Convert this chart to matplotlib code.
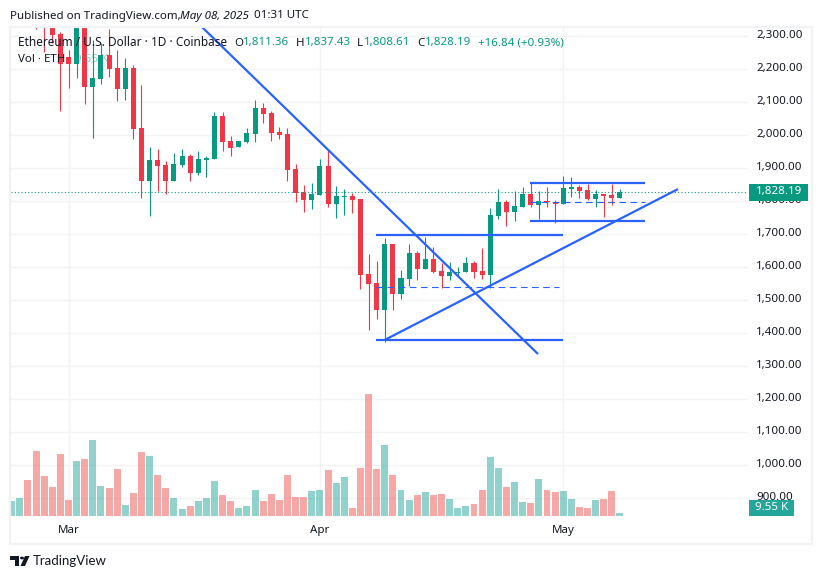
import numpy as np
import matplotlib
matplotlib.use("Agg")
import matplotlib.pyplot as plt
from matplotlib.patches import Rectangle, Polygon, Circle
from matplotlib.transforms import ScaledTranslation

plt.rcParams['font.family'] = ['Noto Sans', 'DejaVu Sans']

W, H = 822, 579

# days counted from 1 March 2025
days = np.arange(-7, 69)
opens = [2400, 2420, 2480, 2420, 2360, 2345, 2307, 2237, 2216, 2340, 2146, 2171, 2243, 2204, 2140, 2204,
         2022, 1862, 1925, 1910, 1862, 1910, 1937, 1886, 1925, 1928, 2058, 1983, 1965, 1980, 2004, 2083,
         2068, 2010, 2004, 1898, 1828, 1804, 1819, 1907, 1792, 1813, 1816, 1807, 1580, 1552, 1471, 1671,
         1519, 1565, 1643, 1595, 1625, 1589, 1574, 1584, 1586, 1613, 1589, 1577, 1755, 1798, 1768, 1783,
         1822, 1789, 1801, 1798, 1792, 1837, 1843, 1834, 1807, 1822, 1819, 1811.36]
highs = [2440, 2470, 2500, 2490, 2400, 2370, 2313, 2258, 2350, 2350, 2290, 2279, 2322, 2258, 2234, 2213,
         2152, 1965, 1958, 1922, 1946, 1958, 1943, 1952, 1937, 2071, 2071, 1998, 1983, 2022, 2107, 2098,
         2075, 2025, 2022, 1913, 1849, 1855, 1928, 1958, 1846, 1837, 1825, 1807, 1640, 1619, 1689, 1671,
         1592, 1671, 1649, 1692, 1662, 1613, 1616, 1601, 1631, 1619, 1658, 1780, 1837, 1804, 1831, 1843,
         1858, 1831, 1843, 1804, 1877, 1874, 1849, 1852, 1834, 1822, 1852, 1837.43]
lows = [2360, 2390, 2400, 2322, 2252, 2279, 2074, 2143, 2174, 2095, 1992, 2155, 2177, 2104, 2107, 1989,
        1810, 1755, 1831, 1822, 1862, 1904, 1862, 1880, 1874, 1928, 1952, 1937, 1965, 1977, 1980, 2037,
        1983, 1989, 1862, 1798, 1768, 1777, 1819, 1783, 1749, 1758, 1765, 1534, 1410, 1443, 1374, 1471,
        1504, 1543, 1562, 1595, 1583, 1537, 1562, 1574, 1586, 1568, 1565, 1537, 1746, 1725, 1740, 1783,
        1783, 1746, 1783, 1734, 1792, 1813, 1810, 1804, 1783, 1752, 1789, 1808.61]
closes = [2420, 2450, 2430, 2360, 2340, 2304, 2216, 2216, 2335, 2146, 2174, 2243, 2201, 2140, 2204, 2019,
          1862, 1925, 1907, 1862, 1913, 1937, 1886, 1928, 1931, 2058, 1980, 1962, 1983, 2007, 2083, 2065,
          2008, 2001, 1895, 1825, 1804, 1822, 1907, 1792, 1816, 1816, 1804, 1577, 1549, 1471, 1671, 1519,
          1568, 1643, 1595, 1625, 1586, 1574, 1586, 1587, 1613, 1586, 1577, 1758, 1798, 1768, 1786, 1822,
          1789, 1801, 1798, 1792, 1840, 1843, 1831, 1807, 1822, 1816, 1810, 1828.19]
# volume in thousands of ETH
volumes = [48, 57, 114, 207, 127, 92, 197, 51, 175, 181, 242, 95, 89, 149, 35, 73,
           204, 191, 130, 89, 57, 22, 32, 48, 57, 111, 67, 48, 25, 32, 83, 48,
           70, 51, 130, 60, 60, 80, 83, 146, 105, 124, 25, 153, 388, 149, 226, 130,
           83, 51, 67, 76, 67, 70, 54, 25, 32, 38, 83, 188, 153, 92, 108, 45, 41, 118,
           83, 76, 80, 54, 29, 25, 51, 54, 80, 9.55]

price_ticks = [900, 1000, 1100, 1200, 1300, 1400, 1500, 1600, 1700, 1800, 1900, 2000, 2100, 2200, 2300]
month_days = [0, 31, 61]
month_labels = ['Mar', 'Apr', 'May']

# hand drawn lines on the chart: (days, prices)
solid_lines = [
    ([16.46, 57.9], [2328, 1337]),
    ([39.0, 75.15], [1380, 1837]),
    ([37.9, 61.0], [1699, 1699]),
    ([37.9, 61.0], [1380, 1380]),
    ([56.9, 71.1], [1855, 1855]),
    ([56.9, 71.1], [1740, 1740]),
]
dashed_lines = [
    ([37.9, 60.5], [1539, 1539]),
    ([56.9, 71.1], [1797, 1797]),
]

GREEN = '#089981'
RED = '#F23645'
BLUE = '#2962FF'
GRID = '#F2F3F5'
INK = '#131722'
FS = 8.3

# plot area in pixels
left, right, top, bottom = 11, 748, 27, 516


def fx(x):
    return x / W


def fy(y):
    return 1 - y / H


fig = plt.figure(figsize=(W / 100, H / 100), dpi=100, facecolor='white')

ax = fig.add_axes([fx(left), fy(bottom), fx(right - left), fy(top) - fy(bottom)], zorder=1)
ax.set_xlim((left - 68.5) / 8.11, (right - 68.5) / 8.11)
ax.set_ylim(2410 - bottom * 3.0303, 2410 - top * 3.0303)
for s in ax.spines.values():
    s.set_visible(False)
ax.grid(True, color=GRID, lw=1.0, zorder=0)
ax.set_axisbelow(True)
ax.yaxis.tick_right()
ax.set_yticks(price_ticks)
ax.set_yticklabels([f'{p:,.2f}' for p in price_ticks])
ax.set_xticks(month_days)
ax.set_xticklabels(month_labels)
ax.tick_params(axis='y', length=0, pad=6, labelsize=FS, labelcolor=INK)
ax.tick_params(axis='x', length=0, pad=6.8, labelsize=FS, labelcolor=INK)
# price labels sit a little above their grid lines
nudge = ScaledTranslation(0, 1.5 / 72, fig.dpi_scale_trans)
for lab in ax.get_yticklabels():
    lab.set_transform(lab.get_transform() + nudge)

up = [c >= o for o, c in zip(opens, closes)]
candle_colors = [GREEN if u else RED for u in up]
ax.vlines(days, lows, highs, colors=candle_colors, lw=0.8, zorder=2)
ax.bar(days, np.abs(np.array(closes) - np.array(opens)), bottom=np.minimum(opens, closes),
       width=0.62, color=candle_colors, lw=0, zorder=3)

ax.axhline(closes[-1], color=GREEN, lw=0.8, ls=(0, (1, 2)), zorder=4)

for xs, ys in solid_lines:
    ax.plot(xs, ys, color=BLUE, lw=1.6, zorder=5, solid_capstyle='butt')
for xs, ys in dashed_lines:
    ax.plot(xs, ys, color=BLUE, lw=0.8, ls=(0, (6, 4)), zorder=5)

# volume pane shares the same box, bars start at the bottom
vol_ax = fig.add_axes(ax.get_position(), zorder=2)
vol_ax.patch.set_visible(False)
vol_ax.set_xlim(ax.get_xlim())
vol_ax.set_ylim(0, (bottom - top) * 3.18)
vol_ax.axis('off')
vol_colors = ['#26A69A' if u else '#EF5350' for u in up]
vol_ax.bar(days, volumes, width=0.86, color=vol_colors, alpha=0.5, lw=0)

# outer frame
fig.add_artist(Rectangle((fx(10), fy(544)), fx(802), fy(27) - fy(544), transform=fig.transFigure,
                         fill=False, ec='#F1F2F3', lw=1.6, zorder=6))

# last price tags
fig.add_artist(Rectangle((fx(749), fy(201)), fx(59), fy(184) - fy(201), transform=fig.transFigure,
                         fc=GREEN, ec='none', zorder=7))
fig.text(fx(779), fy(191.5), f'{closes[-1]:,.2f}', color='white', fontsize=FS, ha='center', va='center', zorder=8)
fig.add_artist(Rectangle((fx(749), fy(516)), fx(45), fy(500) - fy(516), transform=fig.transFigure,
                         fc='#26A69A', ec='none', zorder=7))
fig.text(fx(771.5), fy(507.5), f'{volumes[-1]:.2f} K', color='white', fontsize=FS, ha='center', va='center', zorder=8)

# header
head_y = fy(16)
fig.text(fx(10), head_y, 'Published on TradingView.com,', color=INK, fontsize=FS, va='center')
fig.text(fx(180), head_y, 'May 08, 2025', color=INK, fontsize=FS, va='center', style='italic')
fig.text(fx(254), head_y, '01:31 UTC', color=INK, fontsize=FS, va='center')

# legend row, values in the candle colour
leg_y = fy(43)
fig.text(fx(18), leg_y, 'Ethereum / U.S. Dollar · 1D · Coinbase', color=INK, fontsize=8.5, va='center', zorder=8)
for label, xl, value, xv in [('O', 234, opens[-1], 243), ('H', 296, highs[-1], 305),
                             ('L', 357, lows[-1], 364), ('C', 417, closes[-1], 425)]:
    fig.text(fx(xl), leg_y, label, color=INK, fontsize=FS, va='center', zorder=8)
    fig.text(fx(xv), leg_y, f'{value:,.2f}', color=GREEN, fontsize=FS, va='center', zorder=8)
fig.text(fx(478), leg_y, '+16.84 (+0.93%)', color=GREEN, fontsize=FS, va='center', zorder=8)
fig.text(fx(18), fy(59), 'Vol · ETH', color=INK, fontsize=FS, va='center', zorder=8)
fig.text(fx(75), fy(59), f'{volumes[-1]:.2f} K', color='#26A69A', alpha=0.55, fontsize=FS, va='center', zorder=8)

# logo
def logo_poly(points):
    fig.add_artist(Polygon([(fx(x), fy(y)) for x, y in points], closed=True, transform=fig.transFigure,
                           fc=INK, ec='none', zorder=8))


logo_poly([(10, 556), (19, 556), (19, 566), (15, 566), (15, 560), (10, 560)])
logo_poly([(25, 556), (29.5, 556), (25, 566), (20.5, 566)])
fig.add_artist(Circle((fx(22), fy(558)), 2 / W, transform=fig.transFigure, fc=INK, ec='none', zorder=8))
fig.text(fx(33), fy(561), 'TradingView', color=INK, fontsize=9.5, family=['Lato', 'DejaVu Sans'], va='center', zorder=8)

fig.savefig('out.png', dpi=100, facecolor='white')
